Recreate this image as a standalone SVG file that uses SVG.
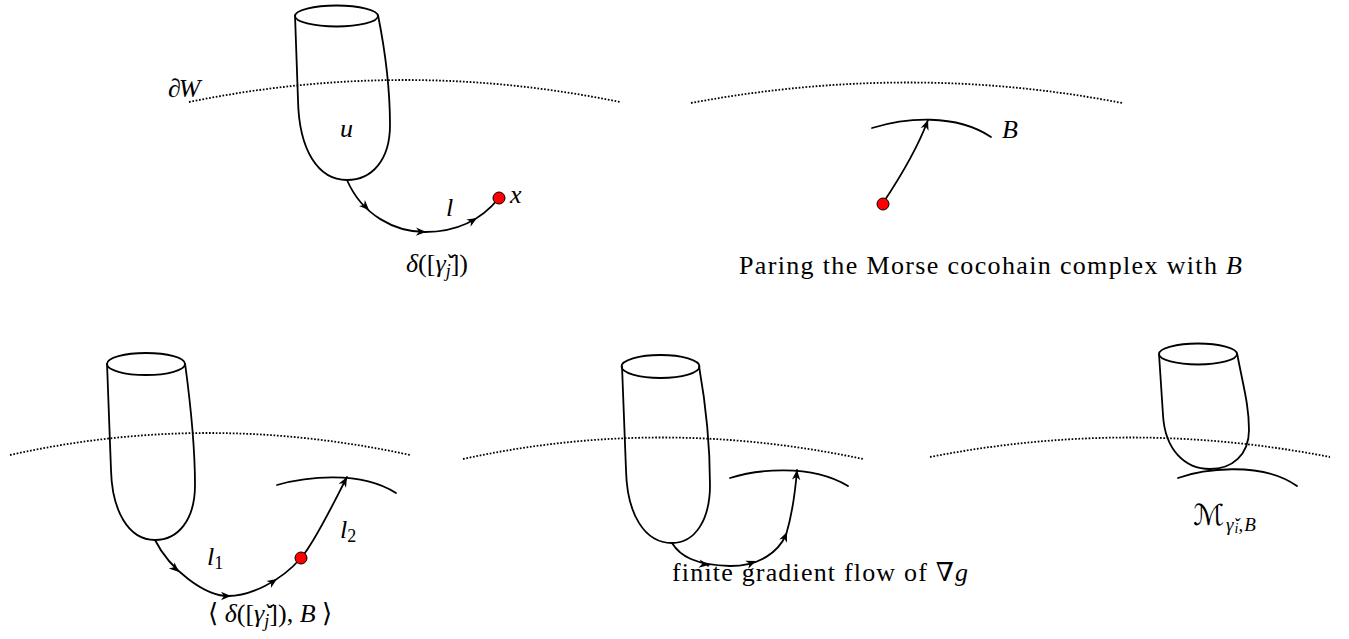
<svg xmlns="http://www.w3.org/2000/svg" xmlns:xlink="http://www.w3.org/1999/xlink" width="1349" height="639" viewBox="0 0 1349 639">
<style>
.ln{fill:none;stroke:#000;stroke-width:1.8;stroke-linecap:round;stroke-linejoin:round}
.cup{fill:none;stroke:#000;stroke-width:1.8;stroke-linejoin:round}
.dt{fill:none;stroke:#000;stroke-width:1.8;stroke-dasharray:1.7 1.7}
.rd{fill:#f00;stroke:#000;stroke-width:1}
.t{font-family:"Liberation Serif","DejaVu Serif","DejaVu Sans",serif;font-size:26px;fill:#000}
.i{font-style:italic}
.s{font-size:18px}
</style>
<defs>
<path id="ah" d="M0,0 L-10,-4.2 L-7,0 L-10,4.2 Z" fill="#000"/>
</defs>
<rect width="1349" height="639" fill="#fff"/>

<!-- Panel 1: top-left -->
<g id="panel-delta">
<path class="dt" d="M189,102 Q405,58 620,102"/>
<ellipse class="cup" cx="336.5" cy="16" rx="41.5" ry="10.5"/>
<path class="cup" d="M295,15 L298,100 C299,150 318,180 347,180 C372,180 390,160 390,125 C390,95 386,55 378,15"/>
<text class="t i" x="168" y="97">∂<tspan dx="-2">W</tspan></text>
<text class="t i" x="340" y="137">u</text>
<text class="t i" x="446" y="216">l</text>
<text class="t i" x="510" y="203">x</text>
<text class="t" x="406" y="272"><tspan class="i">δ</tspan>([<tspan class="i">γ̌</tspan><tspan class="i s" dy="5">j</tspan><tspan dy="-5">])</tspan></text>
</g>

<!-- Panel 2: top-right -->
<g id="panel-pairing">
<path class="dt" d="M691,103 Q910,62 1122,103"/>
<path class="ln" d="M872,128 C905,118 955,113 991,137"/>
<text class="t i" x="1002" y="138">B</text>
<text class="t" x="739" y="274" textLength="503" lengthAdjust="spacing">Paring the Morse cocohain complex with <tspan class="i">B</tspan></text>
</g>

<!-- Panel 3: bottom-left -->
<g id="panel-bracket">
<path class="dt" d="M10,455 Q207,411 410,455"/>
<ellipse class="cup" cx="146" cy="364" rx="39" ry="11"/>
<path class="cup" d="M107,363 L111,470 C112,510 128,540 155,540 C178,540 195,520 195,485 C195,440 190,400 185,363"/>
<path class="ln" d="M277,485 C305,477 360,470 396,493"/>
<text class="t i" x="207" y="565">l<tspan class="s" font-style="normal" dy="4">1</tspan></text>
<text class="t i" x="340" y="538">l<tspan class="s" font-style="normal" dy="4">2</tspan></text>
<text class="t" x="208" y="622">⟨ <tspan class="i">δ</tspan>([<tspan class="i">γ̌</tspan><tspan class="i s" dy="5">j</tspan><tspan dy="-5">]), </tspan><tspan class="i">B</tspan> ⟩</text>
</g>

<!-- Panel 4: bottom-middle -->
<g id="panel-flow">
<path class="dt" d="M463,459 Q660,416 863,459"/>
<ellipse class="cup" cx="660.5" cy="366.5" rx="39" ry="11.5"/>
<path class="cup" d="M622,366 L626,470 C627,515 645,543 672,543 C695,543 710,520 710,485 C710,440 705,400 699,366"/>
<path class="ln" d="M730,478 C755,470 810,463 848,486"/>
<text class="t" x="672" y="581" textLength="296" lengthAdjust="spacing">finite gradient flow of ∇<tspan class="i">g</tspan></text>
</g>

<!-- Panel 5: bottom-right -->
<g id="panel-moduli">
<path class="dt" d="M930,457 Q1130,418 1330,457"/>
<ellipse class="cup" cx="1198" cy="354" rx="39" ry="10.5"/>
<path class="cup" d="M1159,354 L1163,415 C1165,450 1185,469 1210,469 C1232,469 1249,455 1249,430 C1249,405 1243,385 1237,353"/>
<path class="ln" d="M1178,478 C1200,470 1260,460 1297,486"/>
<text class="t" x="1193" y="525"><tspan class="i" font-size="29px">ℳ</tspan><tspan class="i" font-size="19px" dx="2" dy="6">γ̌</tspan><tspan class="i" font-size="14px" dx="1" dy="2">i</tspan><tspan font-size="19px" dy="-2">,</tspan><tspan class="i" font-size="19px" dx="1">B</tspan></text>
</g>

<!-- Connectors: gradient flow lines -->
<g id="connectors">
<path class="ln" d="M347,180 C362,215 395,232 425,232 C452,232 478,224 499,198"/>
<use xlink:href="#ah" transform="translate(369,210) rotate(45)"/>
<use xlink:href="#ah" transform="translate(426,232) rotate(2)"/>
<use xlink:href="#ah" transform="translate(477,218) rotate(-31)"/>

<path class="ln" d="M883,203 Q915,155 928,120"/>
<use xlink:href="#ah" transform="translate(928,120) rotate(-70)"/>

<path class="ln" d="M155,540 C170,570 205,596 228,596 C250,596 280,582 301,558 C315,542 335,500 347,477"/>
<use xlink:href="#ah" transform="translate(179,572) rotate(42)"/>
<use xlink:href="#ah" transform="translate(231,596) rotate(0)"/>
<use xlink:href="#ah" transform="translate(277,579) rotate(-33)"/>
<use xlink:href="#ah" transform="translate(347,477) rotate(-62)"/>

<path class="ln" d="M672,543 C680,556 695,565 730,566 C760,566 778,552 786,535 C792,515 795,495 797,470"/>
<use xlink:href="#ah" transform="translate(709,565) rotate(8)"/>
<use xlink:href="#ah" transform="translate(756,561) rotate(-22)"/>
<use xlink:href="#ah" transform="translate(787,532) rotate(-67)"/>
<use xlink:href="#ah" transform="translate(797,470) rotate(-85)"/>

<circle class="rd" cx="499" cy="198" r="6"/>
<circle class="rd" cx="883" cy="204" r="6"/>
<circle class="rd" cx="301" cy="558" r="6"/>
</g>
</svg>
